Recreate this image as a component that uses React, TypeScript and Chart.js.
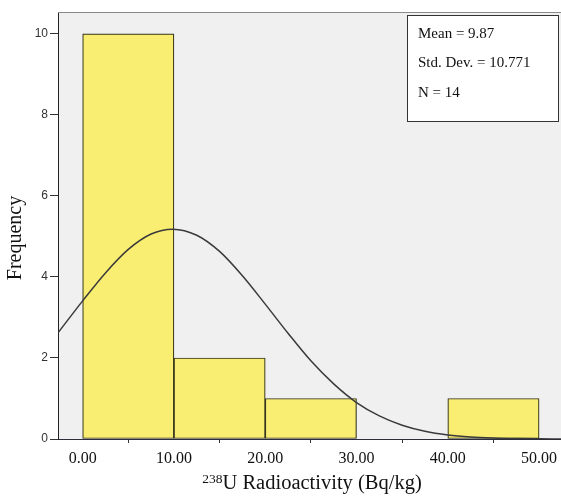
import React, { useEffect, useRef } from "react";
import { Chart, registerables } from "chart.js";

Chart.register(...registerables);

// Histogram bins (bin centres) and counts
const binCenters = [5, 15, 25, 35, 45];
const binCounts = [10, 2, 1, 0, 1];

// Normal curve
const curveX = [-2.7, 0, 2.5, 5, 7.5, 9.87, 12.5, 15, 17.5, 20, 22.5, 25, 27.5, 30, 32.5, 35, 37.5, 40, 42.5, 45, 47.5, 50, 52.4];
const curveY = [2.62, 3.41, 4.1, 4.68, 5.06, 5.18, 5.03, 4.63, 4.03, 3.33, 2.61, 1.93, 1.36, 0.9, 0.57, 0.34, 0.19, 0.1, 0.05, 0.025, 0.012, 0.005, 0.002];

const xTicks = [0, 10, 20, 30, 40, 50];
const yTicks = [0, 2, 4, 6, 8, 10];

const statLines = ["Mean = 9.87", "Std. Dev. = 10.771", "N = 14"];
const xTitleSup = "238";
const xTitleMain = "U Radioactivity (Bq/kg)";
const yTitle = "Frequency";

const SERIF = '"Liberation Serif", "Times New Roman", serif';
const SANS = '"Liberation Sans", Arial, sans-serif';

const decorPlugin = {
  id: "decor",
  beforeDraw(chart: any) {
    const { ctx, chartArea: a } = chart;
    ctx.save();
    ctx.fillStyle = "#f0f0f0";
    ctx.fillRect(a.left, a.top, a.right - a.left, a.bottom - a.top);
    ctx.restore();
  },
  afterDraw(chart: any) {
    const { ctx, chartArea: a } = chart;
    ctx.save();
    // top frame line
    ctx.strokeStyle = "#8a8a8a";
    ctx.lineWidth = 1;
    ctx.beginPath();
    ctx.moveTo(a.left, a.top + 0.5);
    ctx.lineTo(a.right, a.top + 0.5);
    ctx.stroke();

    // stats box
    const bx = 407.5, by = 15.5, bw = 151, bh = 106;
    ctx.fillStyle = "#ffffff";
    ctx.fillRect(bx, by, bw, bh);
    ctx.strokeStyle = "#333333";
    ctx.lineWidth = 1;
    ctx.strokeRect(bx, by, bw, bh);
    ctx.fillStyle = "#111111";
    ctx.font = `15px ${SERIF}`;
    ctx.textAlign = "left";
    ctx.textBaseline = "alphabetic";
    statLines.forEach((t, i) => ctx.fillText(t, 418, 37.5 + i * 29.7));

    // x title with superscript
    ctx.font = `13.5px ${SERIF}`;
    const supW = ctx.measureText(xTitleSup).width;
    ctx.font = `20.5px ${SERIF}`;
    const mainW = ctx.measureText(xTitleMain).width;
    const total = supW + mainW;
    const cx = 312;
    const sx = cx - total / 2;
    ctx.fillStyle = "#111111";
    ctx.font = `13.5px ${SERIF}`;
    ctx.fillText(xTitleSup, sx, 483);
    ctx.font = `20.5px ${SERIF}`;
    ctx.fillText(xTitleMain, sx + supW, 488.5);

    // y title
    ctx.translate(21, 238);
    ctx.rotate(-Math.PI / 2);
    ctx.textAlign = "center";
    ctx.textBaseline = "alphabetic";
    ctx.font = `20px ${SERIF}`;
    ctx.fillText(yTitle, 0, 0);
    ctx.restore();
  },
};

export default function App() {
  const ref = useRef<HTMLCanvasElement | null>(null);
  useEffect(() => {
    if (!ref.current) return;
    const chart = new Chart(ref.current, {
      type: "bar",
      data: {
        datasets: [
          {
            type: "line",
            data: curveX.map((x, i) => ({ x, y: curveY[i] })),
            borderColor: "#3a3a3a",
            borderWidth: 1.5,
            pointRadius: 0,
            cubicInterpolationMode: "monotone",
            fill: false,
            order: 0,
          } as any,
          {
            type: "bar",
            data: binCenters.map((x, i) => ({ x, y: binCounts[i] })),
            backgroundColor: "#faee72",
            borderColor: "#35351c",
            borderWidth: 1.2,
            borderSkipped: false,
            barPercentage: 1,
            categoryPercentage: 1,
            order: 1,
          } as any,
        ],
      },
      options: {
        animation: false,
        responsive: false,
        devicePixelRatio: 1,
        layout: { padding: { left: 0, top: 12, right: 0, bottom: 0 } },
        plugins: { legend: { display: false }, tooltip: { enabled: false }, title: { display: false } },
        scales: {
          x: {
            type: "linear",
            min: -2.7,
            max: 52.4,
            offset: false,
            afterBuildTicks: (s: any) => {
              s.ticks = xTicks.map((v) => ({ value: v }));
            },
            afterFit: (s: any) => {
              s.height = 58;
              s.paddingLeft = 0;
              s.paddingRight = 0;
            },
            grid: { drawOnChartArea: false, drawTicks: true, tickLength: 4, color: "#333" },
            border: { display: true, color: "#2d2d3c", width: 1 },
            ticks: {
              font: { family: SERIF, size: 16 },
              color: "#111",
              padding: 6,
              maxRotation: 0,
              autoSkip: false,
              callback: (v: any) => Number(v).toFixed(2),
            },
          },
          y: {
            type: "linear",
            min: 0,
            max: 10.54,
            afterBuildTicks: (s: any) => {
              s.ticks = yTicks.map((v) => ({ value: v }));
            },
            afterFit: (s: any) => {
              s.width = 58;
              s.paddingTop = 0;
              s.paddingBottom = 0;
            },
            grid: { drawOnChartArea: false, drawTicks: true, tickLength: 8, color: "#333" },
            border: { display: true, color: "#222", width: 1 },
            ticks: {
              font: { family: SANS, size: 12 },
              color: "#333",
              padding: 2,
              autoSkip: false,
            },
          },
        },
      },
      plugins: [decorPlugin],
    } as any);
    return () => chart.destroy();
  }, []);
  return (
    <canvas
      ref={ref}
      width={561}
      height={497}
      style={{ position: "absolute", left: 0, top: 0, width: 561, height: 497, display: "block" }}
    />
  );
}
